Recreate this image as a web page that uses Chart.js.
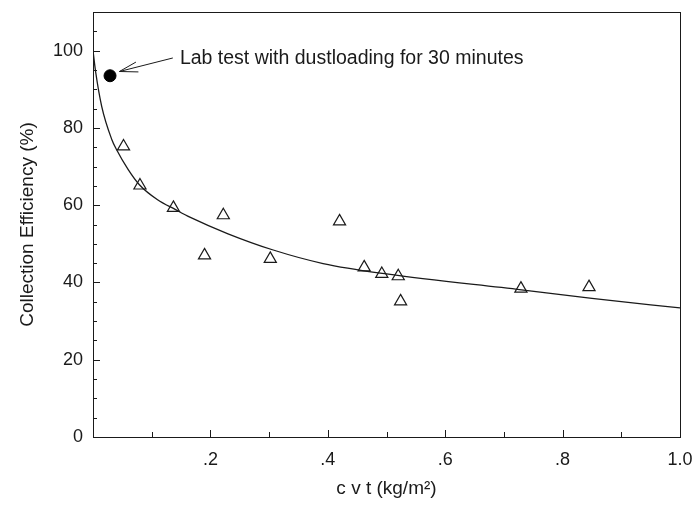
<!DOCTYPE html>
<html>
<head>
<meta charset="utf-8">
<script src="https://cdn.jsdelivr.net/npm/chart.js@4.4.0/dist/chart.umd.min.js"></script>
<style>
  html, body { margin: 0; padding: 0; background: #fff; }
  #wrap { width: 693px; height: 514px; }
</style>
</head>
<body>
<div id="wrap"><canvas id="c"></canvas></div>
<script>
// field data (triangles)
const fieldX = [0.052, 0.080, 0.137, 0.190, 0.222, 0.302, 0.420, 0.462, 0.492, 0.520, 0.524, 0.729, 0.845];
const fieldY = [75.2, 65.1, 59.3, 47.0, 57.4, 46.1, 55.8, 43.9, 42.2, 41.6, 35.1, 38.4, 38.8];

// lab test point (filled circle)
const labX = [0.029];
const labY = [93.5];

// fitted curve
const curveX = [0, 0.0046, 0.0148, 0.032, 0.040, 0.060, 0.079, 0.110, 0.140, 0.165, 0.230, 0.307, 0.392, 0.500, 0.730, 0.850, 1.0];
const curveY = [100, 94.4, 85.6, 77.0, 74.4, 69.2, 65.3, 61.4, 58.9, 56.9, 52.6, 48.4, 44.9, 42.2, 38.1, 35.9, 33.4];

// ticks
const xTickValues = [0.2, 0.4, 0.6, 0.8, 1.0];
const xTickLabels = ['.2', '.4', '.6', '.8', '1.0'];
const xMinor = [0.1, 0.2, 0.3, 0.4, 0.5, 0.6, 0.7, 0.8, 0.9];
const yTickValues = [0, 20, 40, 60, 80, 100];
const yTickLabels = ['0', '20', '40', '60', '80', '100'];
const yMinor = [5, 10, 15, 20, 25, 30, 35, 40, 45, 50, 55, 60, 65, 70, 75, 80, 85, 90, 95, 100, 105];

const noteText = 'Lab test with dustloading for 30 minutes';

const FONT = "'Liberation Sans', Arial, sans-serif";
const INK = '#1a1a1a';

const toXY = (xs, ys) => xs.map((x, i) => ({ x: x, y: ys[i] }));

// frame, inward ticks, annotation arrow
const framePlugin = {
  id: 'frame',
  afterDraw(chart) {
    const ctx = chart.ctx;
    const a = chart.chartArea;
    const xs = chart.scales.x, ys = chart.scales.y;
    ctx.save();
    ctx.strokeStyle = INK;
    ctx.lineWidth = 1;
    ctx.strokeRect(Math.round(a.left) + 0.5, Math.round(a.top) + 0.5,
      Math.round(a.right - a.left), Math.round(a.bottom - a.top));

    ctx.beginPath();
    xMinor.forEach(v => {
      const px = Math.round(xs.getPixelForValue(v)) + 0.5;
      const len = xTickValues.some(t => Math.abs(t - v) < 1e-6) ? 7 : 5;
      ctx.moveTo(px, a.bottom);
      ctx.lineTo(px, a.bottom - len);
    });
    yMinor.forEach(v => {
      const py = Math.round(ys.getPixelForValue(v)) + 0.5;
      const len = yTickValues.includes(v) ? 7 : 4;
      ctx.moveTo(a.left, py);
      ctx.lineTo(a.left + len, py);
    });
    ctx.stroke();

    // arrow to the lab point
    const tx = xs.getPixelForValue(0.136), ty = ys.getPixelForValue(98.1);
    const hx = xs.getPixelForValue(0.045), hy = ys.getPixelForValue(94.6);
    ctx.beginPath();
    ctx.moveTo(tx, ty);
    ctx.lineTo(hx, hy);
    const ang = Math.atan2(ty - hy, tx - hx);
    const L = 19, w = 0.27;
    ctx.moveTo(hx + L * Math.cos(ang - w), hy + L * Math.sin(ang - w));
    ctx.lineTo(hx, hy);
    ctx.lineTo(hx + L * Math.cos(ang + w), hy + L * Math.sin(ang + w));
    ctx.stroke();

    ctx.fillStyle = INK;
    ctx.font = '19.5px ' + FONT;
    ctx.textBaseline = 'middle';
    ctx.textAlign = 'left';
    ctx.fillText(noteText, xs.getPixelForValue(0.148), ys.getPixelForValue(98.0));
    ctx.restore();
  }
};

new Chart(document.getElementById('c'), {
  type: 'scatter',
  data: {
    datasets: [
      {
        label: 'fit',
        data: toXY(curveX, curveY),
        showLine: true,
        borderColor: INK,
        borderWidth: 1.3,
        pointRadius: 0,
        cubicInterpolationMode: 'monotone',
        fill: false
      },
      {
        label: 'field',
        data: toXY(fieldX, fieldY),
        pointStyle: 'triangle',
        pointRadius: 7,
        backgroundColor: 'rgba(255,255,255,0)',
        borderColor: INK,
        borderWidth: 1.2
      },
      {
        label: 'lab',
        data: toXY(labX, labY),
        pointStyle: 'circle',
        pointRadius: 6,
        backgroundColor: '#000',
        borderColor: '#000',
        borderWidth: 1
      }
    ]
  },
  options: {
    responsive: true,
    maintainAspectRatio: false,
    animation: false,
    layout: { padding: { top: 12, right: 13, left: 0, bottom: 0 } },
    plugins: { legend: { display: false }, tooltip: { enabled: false } },
    scales: {
      x: {
        type: 'linear',
        min: 0,
        max: 1,
        afterBuildTicks: s => { s.ticks = xTickValues.map(v => ({ value: v })); },
        afterFit: s => {
          s.height = 77;
          s.paddingLeft = 0; s.paddingRight = 0; s.paddingTop = 0; s.paddingBottom = 0;
        },
        ticks: {
          autoSkip: false,
          maxRotation: 0,
          padding: 12,
          color: INK,
          font: { family: FONT, size: 18 },
          callback: (v) => xTickLabels[xTickValues.findIndex(t => Math.abs(t - v) < 1e-6)]
        },
        grid: { display: false, drawTicks: false },
        border: { display: false },
        title: {
          display: true,
          text: 'c v t (kg/m²)',
          color: INK,
          font: { family: FONT, size: 19 },
          padding: { top: 0, bottom: 14 }
        }
      },
      y: {
        type: 'linear',
        min: 0,
        max: 110,
        afterBuildTicks: s => { s.ticks = yTickValues.map(v => ({ value: v })); },
        afterFit: s => {
          s.width = 93;
          s.paddingLeft = 0; s.paddingRight = 0; s.paddingTop = 0; s.paddingBottom = 0;
        },
        ticks: {
          autoSkip: false,
          padding: 10,
          color: INK,
          font: { family: FONT, size: 18 },
          callback: (v) => yTickLabels[yTickValues.indexOf(v)]
        },
        grid: { display: false, drawTicks: false },
        border: { display: false },
        title: {
          display: true,
          text: 'Collection Efficiency (%)',
          color: INK,
          font: { family: FONT, size: 19 },
          padding: { top: 16, bottom: 0 }
        }
      }
    }
  },
  plugins: [framePlugin]
});
</script>
</body>
</html>
